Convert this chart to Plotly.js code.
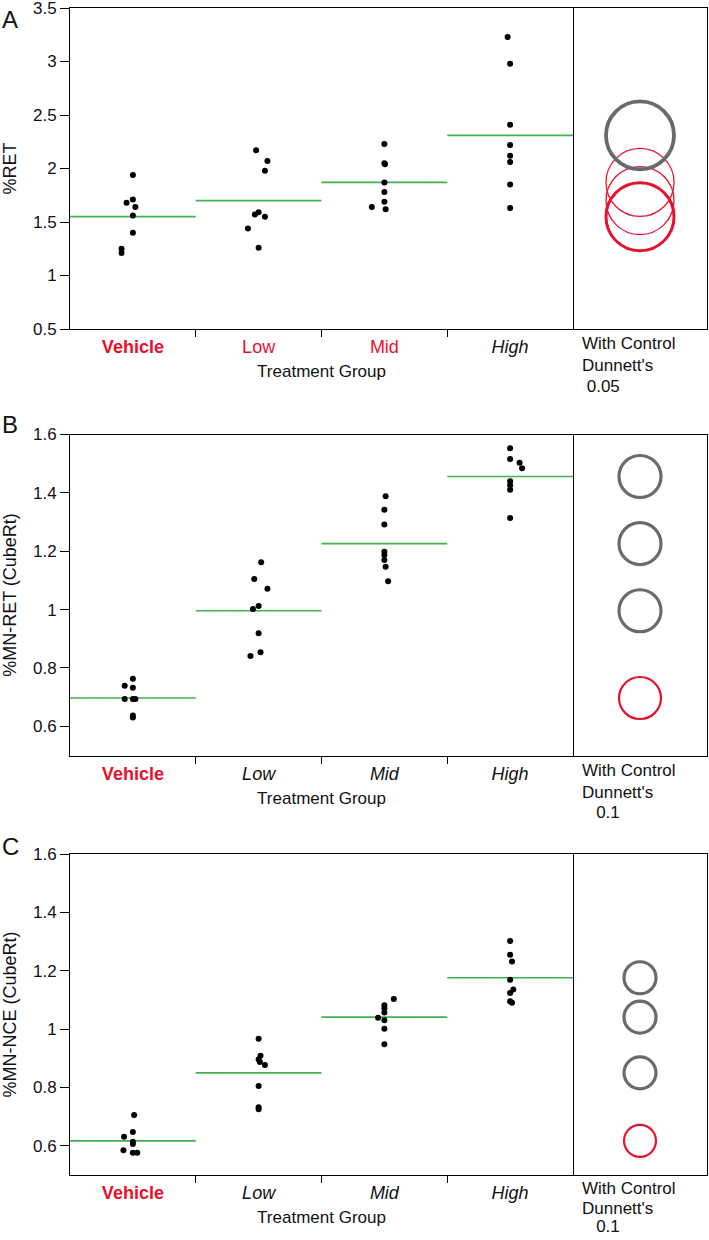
<!DOCTYPE html>
<html>
<head>
<meta charset="utf-8">
<script src="https://cdn.plot.ly/plotly-3.0.1.min.js"></script>
<style>
  html, body { margin: 0; padding: 0; background: #fff; }
  #chart { width: 709px; height: 1240px; }
</style>
</head>
<body>
<div id="chart"></div>
<script>
// ---------------- Data ----------------
const groups = ["Vehicle", "Low", "Mid", "High"];

// Panel A: %RET
const retVehicle = [1.94, 1.71, 1.68, 1.64, 1.56, 1.40, 1.25, 1.21];
const retLow     = [2.17, 2.07, 1.98, 1.59, 1.57, 1.55, 1.44, 1.26];
const retMid     = [2.23, 2.05, 2.04, 1.87, 1.78, 1.69, 1.64, 1.62];
const retHigh    = [3.23, 2.98, 2.41, 2.22, 2.12, 2.06, 1.85, 1.63];
const retMeans   = [1.55, 1.70, 1.87, 2.31];

// Panel B: %MN-RET (CubeRt)
const mnretVehicle = [0.763, 0.739, 0.732, 0.694, 0.694, 0.694, 0.637, 0.630];
const mnretLow     = [1.162, 1.105, 1.071, 1.012, 1.002, 0.919, 0.854, 0.841];
const mnretMid     = [1.388, 1.342, 1.292, 1.198, 1.187, 1.170, 1.147, 1.097];
const mnretHigh    = [1.553, 1.516, 1.503, 1.484, 1.440, 1.426, 1.411, 1.314];
const mnretMeans   = [0.697, 0.996, 1.226, 1.456];

// Panel C: %MN-NCE (CubeRt)
const mnnceVehicle = [0.706, 0.647, 0.631, 0.614, 0.606, 0.585, 0.576, 0.576];
const mnnceLow     = [0.967, 0.909, 0.896, 0.887, 0.877, 0.805, 0.732, 0.725];
const mnnceMid     = [1.103, 1.082, 1.071, 1.057, 1.039, 1.030, 1.001, 0.948];
const mnnceHigh    = [1.302, 1.255, 1.232, 1.169, 1.136, 1.124, 1.095, 1.090];
const mnnceMeans   = [0.617, 0.850, 1.041, 1.176];

// Dunnett's comparison result per group (control / not significant / significant)
const retCompare   = ["control", "ns", "ns", "sig"];
const mnretCompare = ["control", "sig", "sig", "sig"];
const mnnceCompare = ["control", "sig", "sig", "sig"];

// Caption lines under the comparison-circle panels
const retCaption   = ["With Control", "Dunnett's", "\u00a00.05"];
const mnretCaption = ["With Control", "Dunnett's", "\u00a0\u00a0\u00a00.1"];
const mnnceCaption = ["With Control", "Dunnett's", "\u00a0\u00a0\u00a00.1"];

// ---------------- Styles ----------------
// horizontal jitter of the dots (fraction of category width), as in the picture
const jitterA = [[0,0,-0.05,0.02,0,0,-0.09,-0.09],[-0.02,0.07,0.05,0,-0.03,0.05,-0.085,0],[0,0,0.005,0,0,0,-0.10,0.01],[-0.02,0,0,0,0,0,0,0]];
const jitterB = [[0,-0.065,0,-0.065,0,0.02,0,0],[0.02,-0.035,0.07,0,-0.045,0,0.015,-0.065],[0.01,0,0,0,0,0,0.01,0.03],[0,0,0.075,0.095,0,0,0,0]];
const jitterC = [[0.01,0,-0.07,0,0,-0.075,0,0.035],[0,0.015,0,0.01,0.05,0,0,0],[0.075,0,0,0,-0.05,0,0,0],[0,0,0.015,0,0.025,0,0,0.015]];

const RED = "#e8112d", GRAY = "#6a6a6a", GREEN = "#45b04f";
const FONT = "Liberation Sans, Arial, Helvetica, sans-serif";
const W = 709, H = 1240;

const xMainDom = [70 / W, 573 / W];
const xCmpDom  = [573 / W, 707 / W];
function yDom(top, bottom) { return [1 - bottom / H, 1 - top / H]; }

const panels = [
  { id: "A", data: [retVehicle, retLow, retMid, retHigh], means: retMeans, cmp: retCompare, jit: jitterA,
    ytitle: "%RET", yrange: [0.5, 3.5], dtick: 0.5, top: 8, bottom: 329, letterTop: 4,
    labels: ['<b><span style="color:' + RED + '">Vehicle</span></b>', '<span style="color:' + RED + '">Low</span>',
             '<span style="color:' + RED + '">Mid</span>', '<i>High</i>'],
    caption: retCaption, capOffsets: [15, 36.5, 57], circleSize: 68, sigW: 3.8, ctrlW: 3.0, nsW: 1.3 },
  { id: "B", data: [mnretVehicle, mnretLow, mnretMid, mnretHigh], means: mnretMeans, cmp: mnretCompare, jit: jitterB,
    ytitle: "%MN-RET (CubeRt)", yrange: [0.5, 1.6], dtick: 0.2, top: 434.5, bottom: 755.5, letterTop: 409,
    labels: ['<b><span style="color:' + RED + '">Vehicle</span></b>', '<i>Low</i>', '<i>Mid</i>', '<i>High</i>'],
    caption: mnretCaption, capOffsets: [15, 36.5, 57], circleSize: 42, sigW: 3.2, ctrlW: 2.2, nsW: 1.3 },
  { id: "C", data: [mnnceVehicle, mnnceLow, mnnceMid, mnnceHigh], means: mnnceMeans, cmp: mnnceCompare, jit: jitterC,
    ytitle: "%MN-NCE (CubeRt)", yrange: [0.5, 1.6], dtick: 0.2, top: 854, bottom: 1175, letterTop: 831,
    labels: ['<b><span style="color:' + RED + '">Vehicle</span></b>', '<i>Low</i>', '<i>Mid</i>', '<i>High</i>'],
    caption: mnnceCaption, capOffsets: [13.5, 33, 51.5], circleSize: 32, sigW: 3.2, ctrlW: 2.2, nsW: 1.3 }
];

const traces = [];
const layout = {
  width: W, height: H,
  margin: { l: 0, r: 0, t: 0, b: 0 },
  paper_bgcolor: "#fff", plot_bgcolor: "#fff",
  showlegend: false,
  font: { family: FONT, size: 17, color: "#111" },
  annotations: []
};

function axId(letter, i) { return i === 1 ? letter : letter + i; }
function axKey(letter, i) { return letter + "axis" + (i === 1 ? "" : i); }

panels.forEach((p, k) => {
  const n = k * 2 + 1;             // main axis index
  const c = n + 1;                 // comparison axis index
  const lab = 7 + k;               // label overlay axis index
  const xm = axId("x", n), ym = axId("y", n), xc = axId("x", c), yc = axId("y", c);
  const dom = yDom(p.top, p.bottom);

  // dots and mean lines
  p.data.forEach((vals, g) => {
    traces.push({
      type: "scatter", mode: "lines", xaxis: xm, yaxis: ym,
      x: [g, g + 1], y: [p.means[g], p.means[g]],
      line: { color: GREEN, width: 1.6 }, hoverinfo: "skip"
    });
    traces.push({
      type: "scatter", mode: "markers", xaxis: xm, yaxis: ym,
      x: vals.map((v, i) => g + 0.5 + p.jit[g][i]), y: vals,
      marker: { color: "#000", size: 6 }, hoverinfo: "y"
    });
  });

  // comparison circles
  traces.push({
    type: "scatter", mode: "markers", xaxis: xc, yaxis: yc,
    x: p.means.map(() => 0.5), y: p.means,
    marker: {
      symbol: "circle-open", size: p.circleSize,
      color: p.cmp.map(s => s === "sig" ? GRAY : RED),
      line: { width: p.cmp.map(s => s === "sig" ? p.sigW : (s === "control" ? p.ctrlW : p.nsW)) }
    },
    hoverinfo: "skip"
  });

  // invisible trace for the label overlay axis
  traces.push({ type: "scatter", mode: "markers", xaxis: "x" + lab, yaxis: ym,
    x: [0.5], y: [p.means[0]], marker: { opacity: 0 }, hoverinfo: "skip" });

  const lineStyle = { showline: true, linecolor: "#000", linewidth: 1, showgrid: false, zeroline: false };

  layout[axKey("x", n)] = Object.assign({}, lineStyle, {
    mirror: true, domain: xMainDom, anchor: ym, range: [0, 4], fixedrange: true,
    tickmode: "array", tickvals: [1, 2, 3], ticktext: ["", "", ""],
    ticks: "outside", ticklen: 7, tickcolor: "#000", tickwidth: 1
  });
  layout["xaxis" + lab] = {
    overlaying: xm, anchor: ym, side: "bottom", range: [0, 4], fixedrange: true,
    showline: false, showgrid: false, zeroline: false, ticks: "",
    tickmode: "array", tickvals: [0.5, 1.5, 2.5, 3.5], ticktext: p.labels,
    tickfont: { family: FONT, size: 18, color: "#111" }, ticklabelstandoff: 5,
    title: { text: "Treatment Group", font: { family: FONT, size: 17, color: "#111" }, standoff: 9 }
  };
  layout[axKey("y", n)] = Object.assign({}, lineStyle, {
    mirror: true, domain: dom, anchor: xm, range: p.yrange, dtick: p.dtick, tick0: 0, fixedrange: true,
    ticks: "outside", ticklen: 9, tickcolor: "#000", tickwidth: 1, ticklabeloverflow: "allow",
    tickfont: { family: FONT, size: 17, color: "#111" },
    title: { text: p.ytitle, font: { family: FONT, size: 18, color: "#111" }, standoff: 11 }
  });
  layout[axKey("x", c)] = Object.assign({}, lineStyle, {
    mirror: true, domain: xCmpDom, anchor: yc, range: [0, 1], fixedrange: true, showticklabels: false, ticks: ""
  });
  layout[axKey("y", c)] = Object.assign({}, lineStyle, {
    mirror: false, side: "right", domain: dom, anchor: xc, matches: ym, range: p.yrange,
    fixedrange: true, showticklabels: false, ticks: ""
  });

  // panel letter
  layout.annotations.push({
    xref: "paper", yref: "paper", x: 0, y: 1 - p.letterTop / H, xanchor: "left", yanchor: "top",
    text: p.id, showarrow: false, font: { family: FONT, size: 24, color: "#111" }
  });
  // comparison caption, one line each
  p.caption.forEach((t, i) => {
    layout.annotations.push({
      xref: "paper", yref: "paper", x: 581 / W, y: 1 - (p.bottom + p.capOffsets[i]) / H,
      xanchor: "left", yanchor: "middle", align: "left", showarrow: false, borderpad: 0,
      text: t, font: { family: FONT, size: 17, color: "#111" }
    });
  });
});

Plotly.newPlot("chart", traces, layout, { displayModeBar: false, staticPlot: true });
</script>
</body>
</html>
